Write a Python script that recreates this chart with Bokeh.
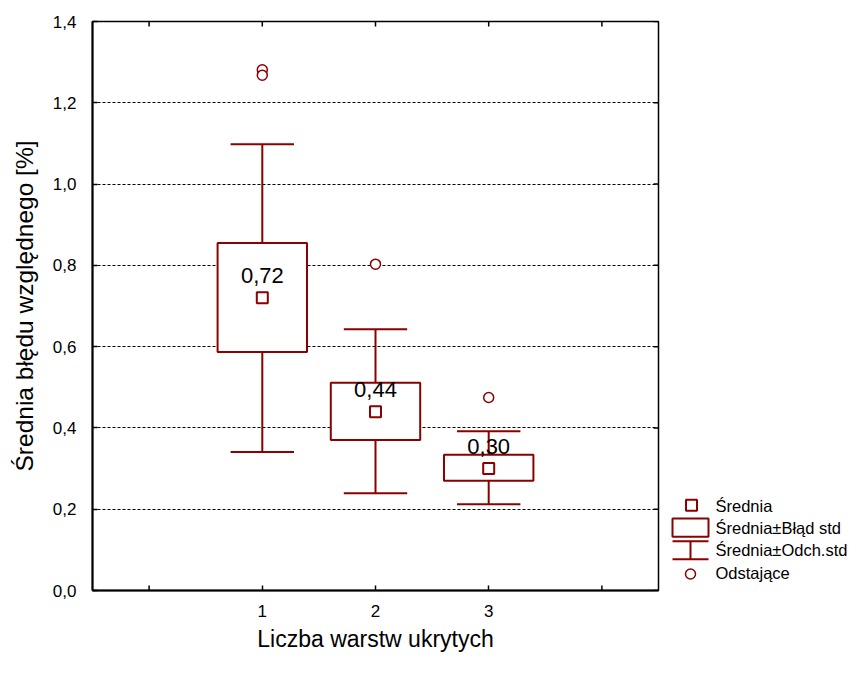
import math
from bokeh.plotting import figure
from bokeh.layouts import row
from bokeh.models import Range1d, FixedTicker, CustomJSTickFormatter
from bokeh.core.properties import value
from bokeh.embed import file_html
from bokeh.resources import INLINE

# ---- data ----
groups = [1, 2, 3]
means = [0.72, 0.44, 0.30]
mean_labels = ["0,72", "0,44", "0,30"]
se_low = [0.587, 0.370, 0.270]
se_high = [0.855, 0.511, 0.334]
sd_low = [0.341, 0.239, 0.212]
sd_high = [1.098, 0.643, 0.392]
out_x = [1, 1, 2, 3]
out_y = [1.281, 1.268, 0.803, 0.475]
x_label_ticks = [1, 2, 3]
x_ticks = [0, 1, 2, 3, 4]
x_plain_ticks = [0, 4]
y_ticks = [0.0, 0.2, 0.4, 0.6, 0.8, 1.0, 1.2, 1.4]
grid_ticks = [0.2, 0.4, 0.6, 0.8, 1.0, 1.2]
legend_labels = ["Średnia", "Średnia±Błąd std", "Średnia±Odch.std", "Odstające"]

# ---- style ----
RED = "#8B0000"
FONT = "Liberation Sans"
BOX_HW = 0.395
CAP_HW = 0.28
H = 657
X0, X1 = -0.5, 4.5
Y0, Y1 = 0.0, 1.4

p = figure(width=666, height=H, x_range=Range1d(X0, X1), y_range=Range1d(Y0, Y1),
           output_backend="svg", toolbar_location=None,
           min_border_left=92, min_border_right=8, min_border_top=21, min_border_bottom=67)
p.background_fill_color = "white"
p.border_fill_color = "white"
p.outline_line_color = "black"
p.outline_line_width = 1.5

fmt = CustomJSTickFormatter(code="return tick.toFixed(1).replace('.', ',');")

xa = p.xaxis[0]
xa.ticker = FixedTicker(ticks=x_label_ticks)
xa.axis_label = "Liczba warstw ukrytych"
xa.major_label_text_font_size = "17px"
xa.major_label_standoff = 14
xa.axis_label_text_font_size = "23px"
xa.axis_label_standoff = 6

ya = p.yaxis[0]
ya.ticker = FixedTicker(ticks=y_ticks)
ya.formatter = fmt
ya.axis_label = "Średnia błędu względnego [%]"
ya.major_label_text_font_size = "17px"
ya.major_label_standoff = 16
ya.axis_label_text_font_size = "24.5px"
ya.axis_label_standoff = 12

for ax in (xa, ya):
    ax.axis_line_color = "black"
    ax.axis_line_width = 2
    ax.major_tick_line_color = "black"
    ax.major_tick_line_width = 1.5
    ax.major_tick_in = 5
    ax.major_tick_out = 0
    ax.minor_tick_line_color = None
    ax.major_label_text_font = FONT
    ax.axis_label_text_font = FONT
    ax.axis_label_text_font_style = "normal"
    ax.axis_label_text_color = "black"
    ax.major_label_text_color = "black"

p.xgrid.grid_line_color = None
p.ygrid.ticker = FixedTicker(ticks=grid_ticks)
p.ygrid.grid_line_color = "black"
p.ygrid.grid_line_dash = "3 2"
p.ygrid.grid_line_width = 1

# inward tick marks on the top and right edges and unlabeled bottom ticks
# (half of each dash is clipped by the frame, leaving an inward tick)
p.scatter(x=x_ticks, y=[Y1] * len(x_ticks), marker="dash", angle=math.pi / 2, size=10,
          line_color="black", line_width=1.5)
p.scatter(x=x_plain_ticks, y=[Y0] * len(x_plain_ticks), marker="dash", angle=math.pi / 2,
          size=10, line_color="black", line_width=1.5)
p.scatter(x=[X1] * len(y_ticks), y=y_ticks, marker="dash", size=10,
          line_color="black", line_width=1.5)

# whiskers (mean ± sd)
p.segment(x0=groups, y0=sd_low, x1=groups, y1=sd_high, line_color=RED, line_width=2)
p.segment(x0=[g - CAP_HW for g in groups], y0=sd_high, x1=[g + CAP_HW for g in groups],
          y1=sd_high, line_color=RED, line_width=2)
p.segment(x0=[g - CAP_HW for g in groups], y0=sd_low, x1=[g + CAP_HW for g in groups],
          y1=sd_low, line_color=RED, line_width=2)
# boxes (mean ± se)
p.quad(left=[g - BOX_HW for g in groups], right=[g + BOX_HW for g in groups],
       bottom=se_low, top=se_high, fill_color="white", line_color=RED, line_width=2)
# means
p.scatter(x=groups, y=means, marker="square", size=11, fill_color="white",
          line_color=RED, line_width=2)
p.text(x=groups, y=means, text=mean_labels, text_align="center", text_baseline="bottom",
       y_offset=-15, text_font=value(FONT), text_font_size="22px", text_color="black")
# outliers
p.scatter(x=out_x, y=out_y, marker="circle", size=10, fill_color="white",
          line_color=RED, line_width=1.5)

# ---- legend panel (coordinates in pixels of the panel, y downwards) ----
LW = 847 - 666
L = figure(width=LW, height=H, x_range=Range1d(0, LW), y_range=Range1d(H, 0),
           output_backend="svg", toolbar_location=None,
           x_axis_location=None, y_axis_location=None, min_border=0)
L.outline_line_color = None
L.grid.visible = False
L.background_fill_color = "white"
L.border_fill_color = "white"

L.scatter(x=[25], y=[558.5], marker="square", size=11, fill_color="white",
          line_color=RED, line_width=2)
L.quad(left=[6], right=[42], top=[574], bottom=[595], fill_color="white",
       line_color=RED, line_width=2)
L.segment(x0=[6, 6, 24], y0=[600, 621, 600], x1=[42, 42, 24], y1=[600, 621, 621],
          line_color=RED, line_width=2)
L.scatter(x=[24], y=[638], marker="circle", size=10, fill_color="white",
          line_color=RED, line_width=1.5)
L.text(x=[49] * 4, y=[560, 585, 610, 637], text=legend_labels, text_align="left",
       text_baseline="middle", text_font=value(FONT), text_font_size="16.5px",
       text_color="black")

layout = row(p, L)
open("out.html", "w").write(file_html(layout, INLINE))
